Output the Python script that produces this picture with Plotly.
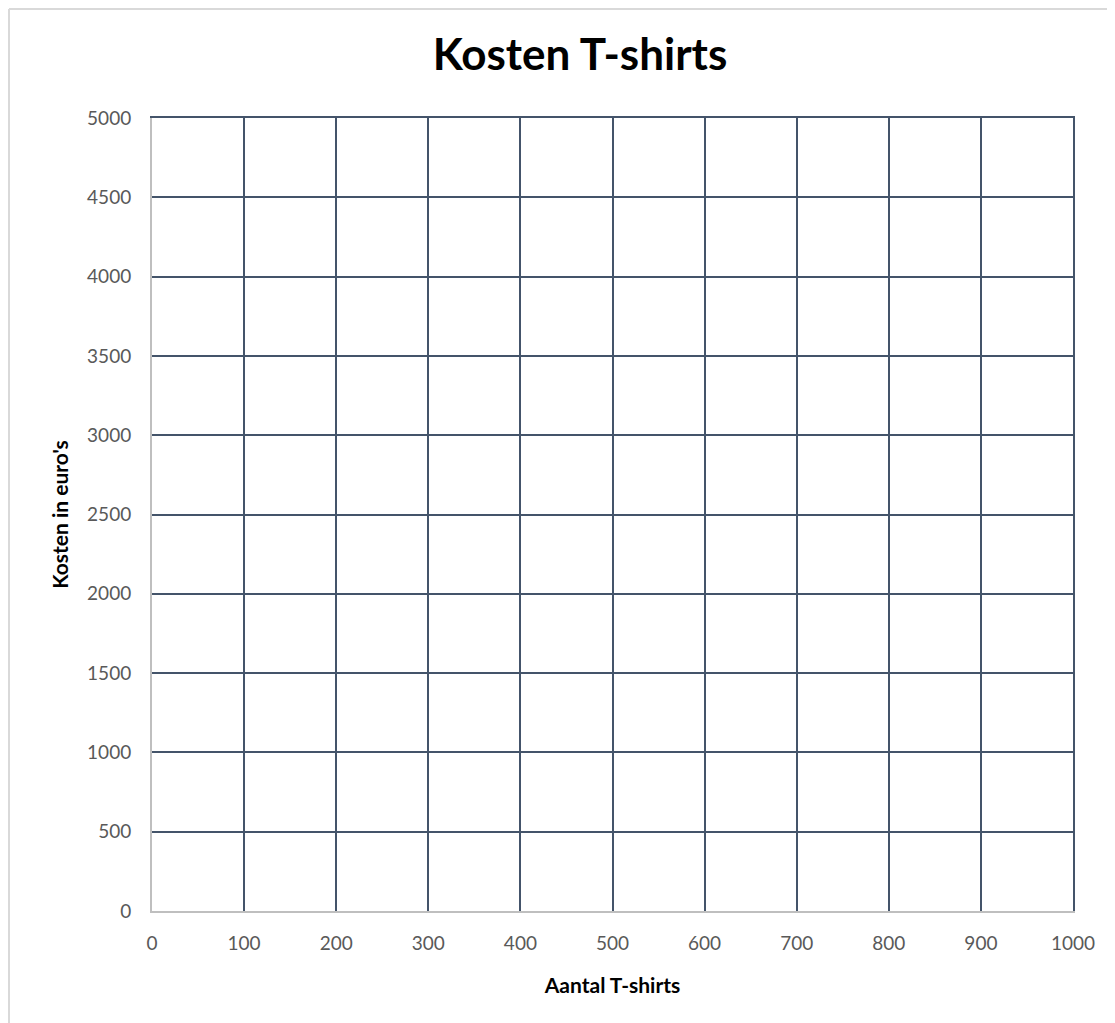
import plotly.graph_objects as go

x_ticks = [0, 100, 200, 300, 400, 500, 600, 700, 800, 900, 1000]
y_ticks = [0, 500, 1000, 1500, 2000, 2500, 3000, 3500, 4000, 4500, 5000]
title_text = "Kosten T-shirts"
x_title = "Aantal T-shirts"
y_title = "Kosten in euro's"

W, H = 1115, 1023
OFF = 8  # page body offset
L, R, T, B = 152 - OFF, 42 + OFF, 118 - OFF, 112 + OFF
FONT = "Lato, 'Open Sans', sans-serif"
GRID = "#44546A"

fig = go.Figure()
fig.add_trace(go.Scatter(x=[], y=[], mode="lines", showlegend=False, hoverinfo="skip"))
fig.add_trace(go.Scatter(x=[], y=[], xaxis="x2", yaxis="y2", showlegend=False, hoverinfo="skip"))

fig.update_layout(
    width=W, height=H,
    margin=dict(l=L, r=R, t=T, b=B),
    paper_bgcolor="white", plot_bgcolor="white",
    title=dict(text="<b>%s</b>" % title_text, x=(580 - OFF) / W, xanchor="center",
               y=1 - (55 - OFF) / H, yanchor="middle",
               font=dict(family=FONT, size=44, color="black")),
    font=dict(family=FONT),
    showlegend=False,
    xaxis=dict(
        range=[0, 1000], tickvals=x_ticks, ticktext=[str(v) for v in x_ticks],
        showgrid=True, gridcolor=GRID, gridwidth=2,
        showline=True, linecolor="#BFBFBF", linewidth=2, zeroline=False,
        ticks="", ticklabelstandoff=14,
        tickfont=dict(family=FONT, size=19, color="#595959"),
        title=dict(text="<b>%s</b>" % x_title, standoff=26,
                   font=dict(family=FONT, size=21, color="black")),
        fixedrange=True,
    ),
    yaxis=dict(
        range=[0, 5000], tickvals=y_ticks, ticktext=[str(v) for v in y_ticks],
        showgrid=True, gridcolor=GRID, gridwidth=2,
        showline=True, linecolor="#BFBFBF", linewidth=2, zeroline=False,
        ticks="", ticklabelstandoff=15,
        tickfont=dict(family=FONT, size=19, color="#595959"),
        title=dict(text="<b>%s</b>" % y_title, standoff=13,
                   font=dict(family=FONT, size=21, color="black")),
        fixedrange=True,
    ),
    xaxis2=dict(overlaying="x", side="top", range=[0, 1000], showgrid=False,
                showticklabels=False, ticks="", showline=True, linecolor=GRID,
                linewidth=2, zeroline=False, fixedrange=True),
    yaxis2=dict(overlaying="y", side="right", range=[0, 5000], showgrid=False,
                showticklabels=False, ticks="", showline=True, linecolor=GRID,
                linewidth=2, zeroline=False, fixedrange=True),
)

# outer chart border (top and left edges visible in the reference)
pw, ph = W - L - R, H - T - B
x0 = (1 - L) / pw
y_top = 1 + (T - 1) / ph
fig.add_shape(type="line", xref="paper", yref="paper", x0=x0, x1=1 + R / pw + 0.01,
              y0=y_top, y1=y_top, line=dict(color="#D9D9D9", width=2))
fig.add_shape(type="line", xref="paper", yref="paper", x0=x0, x1=x0,
              y0=y_top, y1=-B / ph - 0.01, line=dict(color="#D9D9D9", width=2))

fig.write_html("out.html", config={"displayModeBar": False})
